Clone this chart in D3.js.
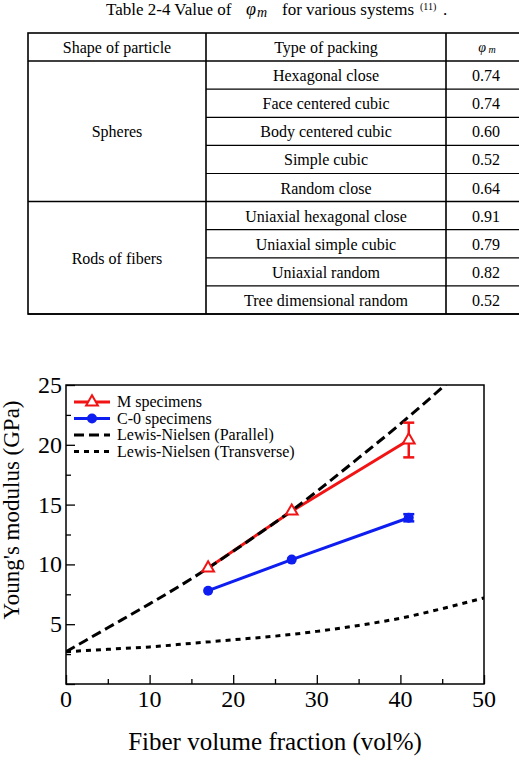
<!DOCTYPE html>
<html>
<head>
<meta charset="utf-8">
<script src="https://cdn.jsdelivr.net/npm/d3@7"></script>
<style>
  body { margin: 0; background: #fff; }
  svg { display: block; font-family: "Liberation Serif", "Times New Roman", serif; }
</style>
</head>
<body>
<div id="chart"></div>
<script>
// table data
const shapes = ["Spheres", "Rods of fibers"];
const shapeRows = [5, 4];
const packings = ["Hexagonal close", "Face centered cubic", "Body centered cubic", "Simple cubic", "Random close",
  "Uniaxial hexagonal close", "Uniaxial simple cubic", "Uniaxial random", "Tree dimensional random"];
const phiValues = ["0.74", "0.74", "0.60", "0.52", "0.64", "0.91", "0.79", "0.82", "0.52"];

// chart data
const fiberX = [17, 27, 41];
const mValues = [9.7, 14.45, 20.4];
const mErr = [0, 0, 1.45];
const cValues = [7.8, 10.4, 13.9];
const cErr = [0, 0, 0.3];
const lnX = [0, 5, 10, 15, 17, 20, 25, 27, 30, 35, 40, 45, 47];
const lnParallel = [2.7, 4.7, 6.7, 8.8, 9.7, 11.1, 13.5, 14.5, 16.1, 18.9, 21.75, 24.8, 26.1];
const lnTX = [0, 5, 10, 15, 20, 25, 30, 35, 40, 45, 50];
const lnTransverse = [2.7, 2.9, 3.1, 3.4, 3.7, 4.0, 4.4, 4.9, 5.5, 6.3, 7.2];
const xTicks = [0, 10, 20, 30, 40, 50];
const yTicks = [5, 10, 15, 20, 25];

const W = 519, H = 778;
const svg = d3.select("#chart").append("svg").attr("width", W).attr("height", H);

// ---------- table ----------
const tbl = svg.append("g");
// title pieces placed one by one (spacing of the original is loose)
const ty = 15;
tbl.append("text").attr("x", 106).attr("y", ty).style("font-size", "17px").text("Table 2-4 Value of");
tbl.append("text").attr("x", 246).attr("y", ty).style("font-size", "18px").style("font-style", "italic").text("φ");
tbl.append("text").attr("x", 257).attr("y", ty + 2).style("font-size", "14px").style("font-style", "italic").text("m");
tbl.append("text").attr("x", 282).attr("y", ty).style("font-size", "17px").text("for various systems");
tbl.append("text").attr("x", 420).attr("y", ty - 5).style("font-size", "10px").text("(11)");
tbl.append("text").attr("x", 443).attr("y", ty).style("font-size", "17px").text(".");

const colX = [28, 206, 446, 526];
const rowY = d3.scaleBand().domain(d3.range(packings.length + 1)).range([33, 314]);
const fs = "16px";

// header
const headers = ["Shape of particle", "Type of packing"];
headers.forEach((h, i) => {
  tbl.append("text").attr("x", (colX[i] + colX[i + 1]) / 2).attr("y", rowY(0) + rowY.bandwidth() / 2 + 6)
    .attr("text-anchor", "middle").style("font-size", fs).text(h);
});
tbl.append("text").attr("x", (colX[2] + colX[3]) / 2 + 1).attr("y", rowY(0) + rowY.bandwidth() / 2 + 5)
  .attr("text-anchor", "middle").style("font-size", "14px").style("font-style", "italic")
  .call(t => {
    t.append("tspan").text("φ");
    t.append("tspan").style("font-size", "10px").attr("dy", 1).text(" m");
  });

packings.forEach((p, i) => {
  const y = rowY(i + 1) + rowY.bandwidth() / 2 + 6;
  tbl.append("text").attr("x", (colX[1] + colX[2]) / 2).attr("y", y)
    .attr("text-anchor", "middle").style("font-size", fs).text(p);
  tbl.append("text").attr("x", (colX[2] + colX[3]) / 2).attr("y", y)
    .attr("text-anchor", "middle").style("font-size", fs).text(phiValues[i]);
});

let start = 1;
shapes.forEach((s, k) => {
  const y0 = rowY(start), y1 = rowY(start + shapeRows[k] - 1) + rowY.bandwidth();
  tbl.append("text").attr("x", (colX[0] + colX[1]) / 2).attr("y", (y0 + y1) / 2 + 6)
    .attr("text-anchor", "middle").style("font-size", fs).text(s);
  // row lines inside group
  for (let r = start; r < start + shapeRows[k] - 1; r++) {
    tbl.append("line").attr("x1", colX[1]).attr("x2", colX[3])
      .attr("y1", rowY(r) + rowY.bandwidth()).attr("y2", rowY(r) + rowY.bandwidth())
      .attr("stroke", "#000").attr("stroke-width", 1.2);
  }
  tbl.append("line").attr("x1", colX[0]).attr("x2", colX[3]).attr("y1", y1).attr("y2", y1)
    .attr("stroke", "#000").attr("stroke-width", 1.5);
  start += shapeRows[k];
});
tbl.append("line").attr("x1", colX[0]).attr("x2", colX[3]).attr("y1", rowY(1)).attr("y2", rowY(1))
  .attr("stroke", "#000").attr("stroke-width", 1.5);
tbl.append("rect").attr("x", colX[0]).attr("y", 33).attr("width", colX[3] - colX[0]).attr("height", 314 - 33)
  .attr("fill", "none").attr("stroke", "#000").attr("stroke-width", 1.6);
[colX[1], colX[2]].forEach(cx => {
  tbl.append("line").attr("x1", cx).attr("x2", cx).attr("y1", 33).attr("y2", 314)
    .attr("stroke", "#000").attr("stroke-width", 1.6);
});

// ---------- plot ----------
const x = d3.scaleLinear().domain([0, 50]).range([66, 484]);
const y = d3.scaleLinear().domain([0, 25]).range([684, 385]);

const plot = svg.append("g");
const clipId = "plotclip";
svg.append("clipPath").attr("id", clipId).append("rect")
  .attr("x", 66).attr("y", 385).attr("width", 418).attr("height", 299);

// ticks (inward)
const xAxis = d3.axisBottom(x).tickValues(d3.range(0, 51, 5)).tickSize(0).tickFormat("");
plot.append("g").attr("transform", "translate(0,684)").call(xAxis)
  .call(g => g.select(".domain").remove())
  .call(g => g.selectAll(".tick line").attr("y2", d => d % 10 === 0 ? -9 : -5)
    .attr("stroke", "#000").attr("stroke-width", 1.3));
plot.selectAll(".xlab").data(xTicks).join("text")
  .attr("x", d => x(d)).attr("y", 707).attr("text-anchor", "middle")
  .style("font-size", "24px").text(d => d);

const yAxis = d3.axisLeft(y).tickValues(d3.range(0, 25.01, 2.5)).tickSize(0).tickFormat("");
plot.append("g").attr("transform", "translate(66,0)").call(yAxis)
  .call(g => g.select(".domain").remove())
  .call(g => g.selectAll(".tick line").attr("x2", d => d % 5 === 0 ? 9 : 5)
    .attr("stroke", "#000").attr("stroke-width", 1.3));
plot.selectAll(".ylab").data(yTicks).join("text")
  .attr("x", 62).attr("y", d => y(d) + 8).attr("text-anchor", "end")
  .style("font-size", "24px").text(d => d);

plot.append("rect").attr("x", 66).attr("y", 385).attr("width", 418).attr("height", 299)
  .attr("fill", "none").attr("stroke", "#000").attr("stroke-width", 1.5);

const line = d3.line().x(d => x(d[0])).y(d => y(d[1]));
const smooth = d3.line().curve(d3.curveMonotoneX).x(d => x(d[0])).y(d => y(d[1]));
const red = "#f21414", blue = "#0f1ef0";

// series lines
plot.append("path").datum(fiberX.map((v, i) => [v, cValues[i]]))
  .attr("d", line).attr("fill", "none").attr("stroke", blue).attr("stroke-width", 3);
plot.append("path").datum(fiberX.map((v, i) => [v, mValues[i]]))
  .attr("d", line).attr("fill", "none").attr("stroke", red).attr("stroke-width", 3);

// Lewis-Nielsen curves
const curves = plot.append("g").attr("clip-path", `url(#${clipId})`);
curves.append("path").datum(lnTX.map((v, i) => [v, lnTransverse[i]]))
  .attr("d", smooth)
  .attr("fill", "none").attr("stroke", "#000").attr("stroke-width", 3).attr("stroke-dasharray", "5,5");
curves.append("path").datum(lnX.map((v, i) => [v, lnParallel[i]]))
  .attr("d", smooth)
  .attr("fill", "none").attr("stroke", "#000").attr("stroke-width", 3).attr("stroke-dasharray", "10,5");

// error bars
function errBars(vals, errs, color) {
  fiberX.forEach((v, i) => {
    if (errs[i] > 0) {
      const g = plot.append("g").attr("stroke", color).attr("stroke-width", 2.5);
      g.append("line").attr("x1", x(v)).attr("x2", x(v)).attr("y1", y(vals[i] - errs[i])).attr("y2", y(vals[i] + errs[i]));
      [vals[i] - errs[i], vals[i] + errs[i]].forEach(e =>
        g.append("line").attr("x1", x(v) - 5.5).attr("x2", x(v) + 5.5).attr("y1", y(e)).attr("y2", y(e)));
    }
  });
}
errBars(cValues, cErr, blue);
errBars(mValues, mErr, red);

plot.selectAll(".cdot").data(fiberX).join("circle")
  .attr("cx", d => x(d)).attr("cy", (d, i) => y(cValues[i])).attr("r", 5).attr("fill", blue);

const tri = d3.symbol().type(d3.symbolTriangle).size(60);
plot.selectAll(".mtri").data(fiberX).join("path")
  .attr("transform", (d, i) => `translate(${x(d)},${y(mValues[i])})`)
  .attr("d", tri).attr("fill", "#fff").attr("stroke", red).attr("stroke-width", 2);

// legend
const legendItems = [
  {label: "M specimens", color: red, dash: null, marker: "tri"},
  {label: "C-0 specimens", color: blue, dash: null, marker: "dot"},
  {label: "Lewis-Nielsen (Parallel)", color: "#000", dash: "10,5", marker: null},
  {label: "Lewis-Nielsen (Transverse)", color: "#000", dash: "5,5", marker: null}
];
const leg = plot.append("g");
legendItems.forEach((it, i) => {
  const ly = 402 + i * 16.5;
  leg.append("line").attr("x1", 74).attr("x2", 110).attr("y1", ly).attr("y2", ly)
    .attr("stroke", it.color).attr("stroke-width", 3).attr("stroke-dasharray", it.dash);
  if (it.marker === "tri") {
    leg.append("path").attr("transform", `translate(92,${ly})`).attr("d", tri)
      .attr("fill", "#fff").attr("stroke", it.color).attr("stroke-width", 2);
  } else if (it.marker === "dot") {
    leg.append("circle").attr("cx", 92).attr("cy", ly).attr("r", 5).attr("fill", it.color);
  }
  leg.append("text").attr("x", 117).attr("y", ly + 5).style("font-size", "16px").text(it.label);
});

// axis titles
svg.append("text").attr("x", 275).attr("y", 750).attr("text-anchor", "middle")
  .style("font-size", "25px").text("Fiber volume fraction (vol%)");
svg.append("text").attr("transform", "translate(19,510) rotate(-90)").attr("text-anchor", "middle")
  .style("font-size", "23px").text("Young's modulus (GPa)");
</script>
</body>
</html>
